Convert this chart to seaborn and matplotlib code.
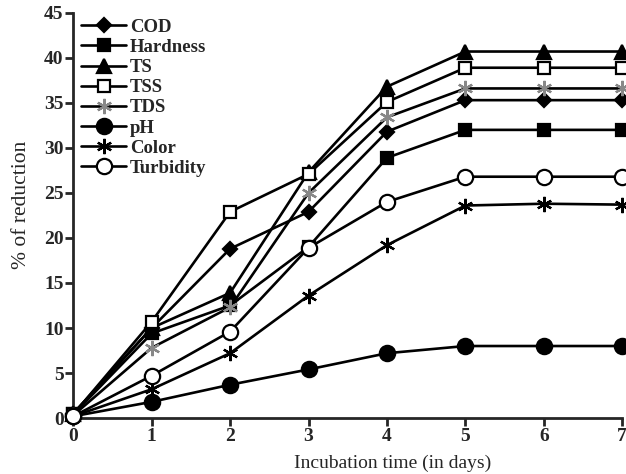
import pandas as pd
import matplotlib
matplotlib.use("Agg")
import matplotlib.pyplot as plt
import seaborn as sns

days = [0, 1, 2, 3, 4, 5, 6, 7]

cod = [0.5, 10.0, 18.8, 22.9, 31.8, 35.3, 35.3, 35.3]
hardness = [0.4, 9.4, 12.5, 19.0, 28.9, 32.0, 32.0, 32.0]
ts = [0.5, 10.0, 13.9, 27.3, 36.8, 40.7, 40.7, 40.7]
tss = [0.4, 10.7, 22.9, 27.1, 35.1, 38.9, 38.9, 38.9]
tds = [0.3, 7.8, 12.3, 25.0, 33.4, 36.6, 36.6, 36.6]
ph = [0.2, 1.8, 3.7, 5.4, 7.2, 8.0, 8.0, 8.0]
color = [0.2, 3.2, 7.2, 13.6, 19.2, 23.6, 23.8, 23.7]
turbidity = [0.2, 4.7, 9.6, 18.9, 24.0, 26.8, 26.8, 26.8]

series = {
    "COD": cod,
    "Hardness": hardness,
    "TS": ts,
    "TSS": tss,
    "TDS": tds,
    "pH": ph,
    "Color": color,
    "Turbidity": turbidity,
}

styles = {
    "COD": dict(marker="D", ms=7, mfc="black", mec="black"),
    "Hardness": dict(marker="s", ms=9, mfc="black", mec="black"),
    "TS": dict(marker="^", ms=10, mfc="black", mec="black"),
    "TSS": dict(marker="s", ms=8, mfc="white", mec="black"),
    "TDS": dict(marker=(6, 2, 0), ms=11, mfc="#888888", mec="#888888"),
    "pH": dict(marker="o", ms=11, mfc="black", mec="black"),
    "Color": dict(marker=(6, 2, 0), ms=11, mfc="black", mec="black"),
    "Turbidity": dict(marker="o", ms=11, mfc="white", mec="black"),
}

sns.set_style("ticks")
plt.rcParams["font.family"] = ["Liberation Serif", "DejaVu Serif"]

fig = plt.figure(figsize=(6.26, 4.74), dpi=100)
ax = fig.add_axes([0.117, 0.118, 0.877, 0.855])

for name, vals in series.items():
    st = styles[name]
    sns.lineplot(x=days, y=vals, ax=ax, color="black", linewidth=1.9,
                 marker=st["marker"], markersize=st["ms"],
                 markerfacecolor=st["mfc"], markeredgecolor=st["mec"],
                 markeredgewidth=1.6, label=name, clip_on=False, zorder=3)

ax.set_xlim(0, 7)
ax.set_ylim(0, 45)
ax.set_xticks(days)
ax.set_yticks(range(0, 46, 5))
sns.despine(ax=ax)
for sp in ["left", "bottom"]:
    ax.spines[sp].set_linewidth(2)
ax.tick_params(axis="both", width=2, length=6, labelsize=14, direction="out", pad=1)
for lab in ax.get_xticklabels() + ax.get_yticklabels():
    lab.set_fontweight("bold")

ax.set_xlabel("Incubation time (in days)", fontsize=14)
ax.set_ylabel("% of reduction", fontsize=15.5)
ax.xaxis.set_label_coords(0.581, -0.09)
ax.yaxis.set_label_coords(-0.077, 0.526)

ax.legend(loc="upper left", bbox_to_anchor=(-0.006, 1.013), frameon=False,
          prop={"size": 13.5, "weight": "bold"}, handlelength=2.4,
          handletextpad=0.2, labelspacing=0.16, borderaxespad=0.2)

fig.savefig("out.png", dpi=100)
